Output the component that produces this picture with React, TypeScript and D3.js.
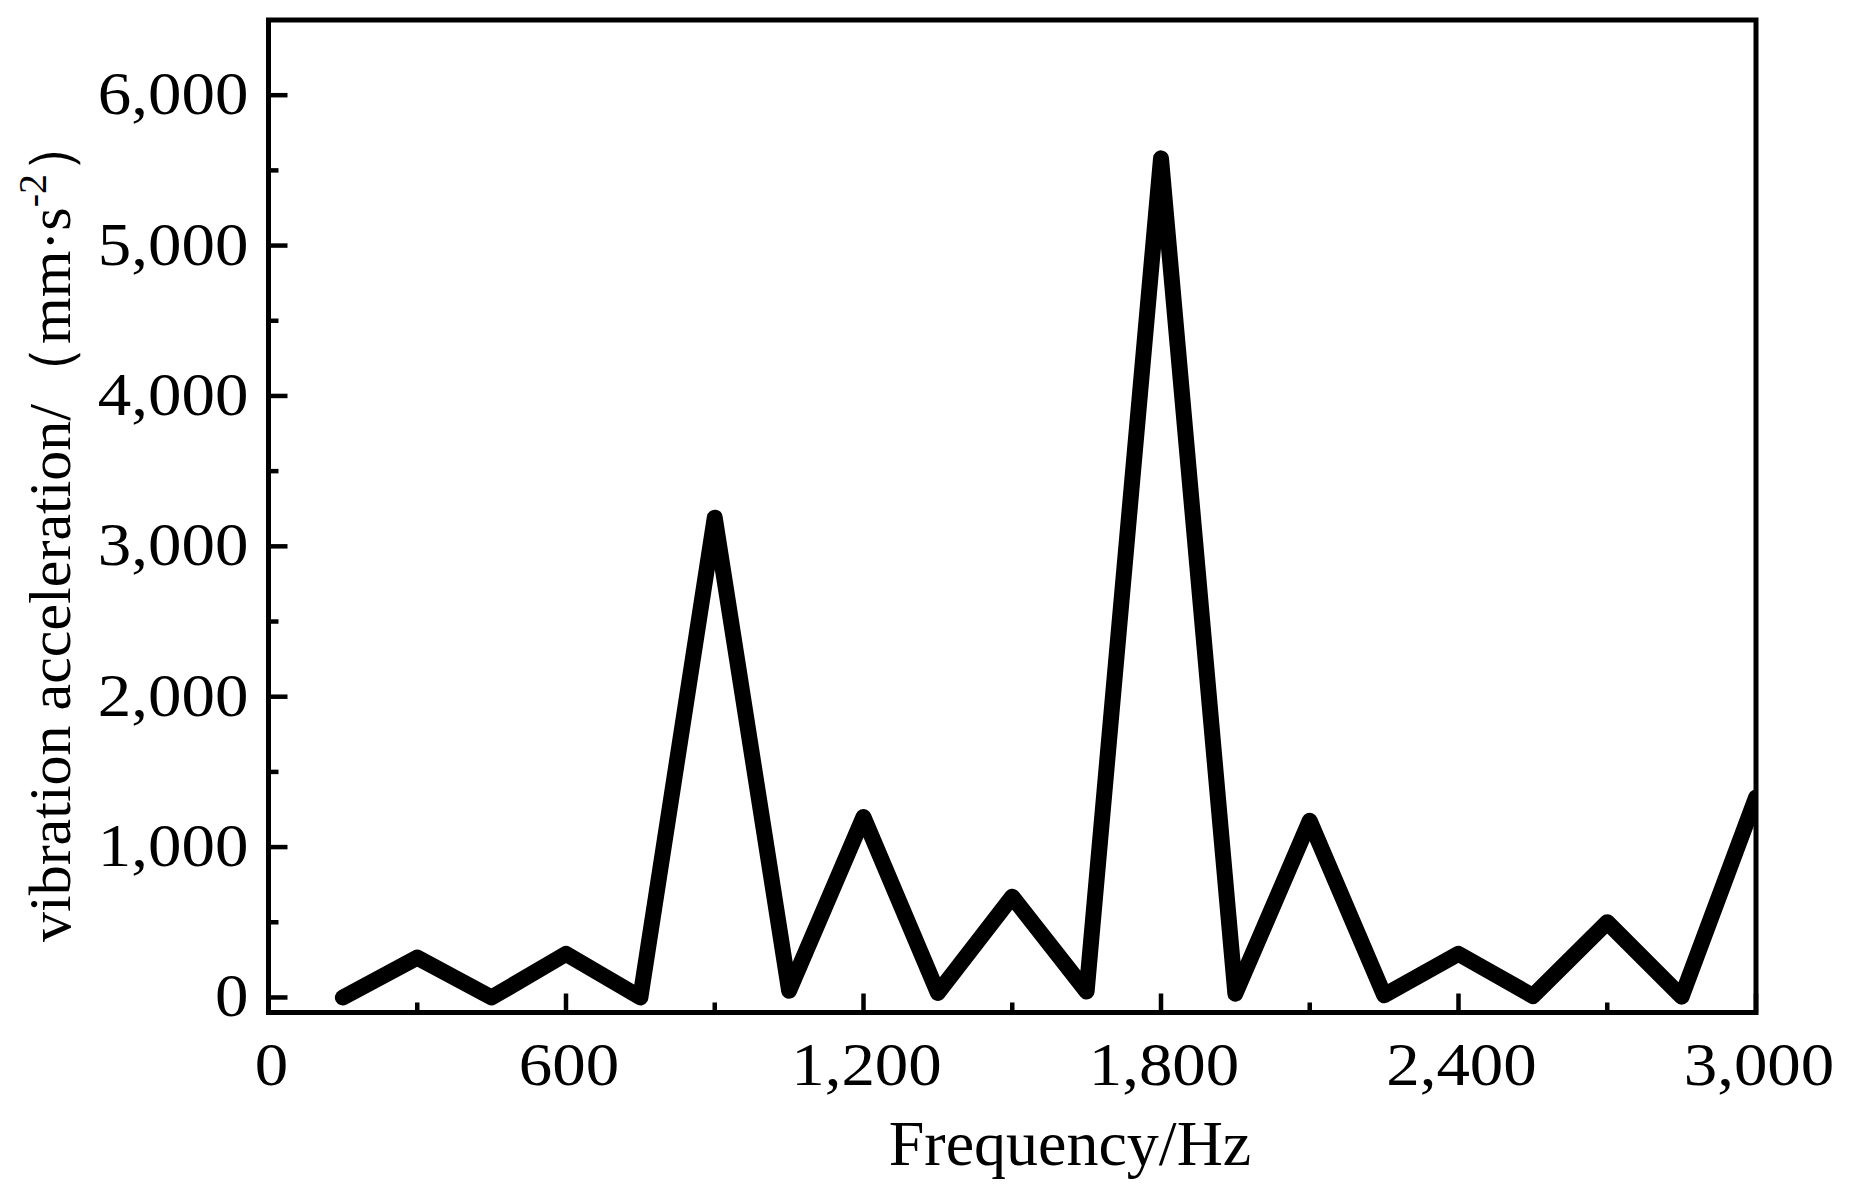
import React from "react";
import * as d3 from "d3";

// frequency bins (Hz) and measured vibration acceleration (mm·s^-2)
const frequencies = [
  150, 300, 450, 600, 750, 900, 1050, 1200, 1350, 1500, 1650, 1800, 1950,
  2100, 2250, 2400, 2550, 2700, 2850, 3000,
];
const acceleration = [
  0, 265, 0, 290, 0, 3190, 45, 1200, 30, 670, 40, 5580, 25, 1175, 15, 290,
  10, 500, 5, 1330,
];

const xMajorTicks = [0, 600, 1200, 1800, 2400, 3000];
const xMinorTicks = [300, 900, 1500, 2100, 2700];
const yMajorTicks = [0, 1000, 2000, 3000, 4000, 5000, 6000];
const yMinorTicks = [500, 1500, 2500, 3500, 4500, 5500];

const W = 1852;
const H = 1190;
const left = 268.5;
const right = 1756;
const top = 20;
const bottom = 1012.5;
const font = "'Liberation Serif', 'Times New Roman', serif";
const stretch = 1.08; // tick labels in the original are a little wide

const App = () => {
  const x = d3.scaleLinear().domain([0, 3000]).range([left, right]);
  const y = d3.scaleLinear().domain([-100, 6500]).range([bottom, top]);
  const fmt = d3.format(",");

  const line = d3
    .line<number>()
    .x((_, i) => x(frequencies[i]))
    .y((d) => y(d));

  const major = 19;
  const minor = 10;

  return (
    <svg
      width={W}
      height={H}
      style={{ position: "absolute", left: 0, top: 0, background: "#fff" }}
    >
      <defs>
        <clipPath id="plot">
          <rect x={left} y={top} width={right - left} height={bottom - top} />
        </clipPath>
      </defs>

      {/* data line */}
      <path
        d={line(acceleration) || ""}
        fill="none"
        stroke="#000"
        strokeWidth={16}
        strokeLinejoin="round"
        strokeLinecap="round"
        clipPath="url(#plot)"
      />

      {/* ticks, pointing inward */}
      <g stroke="#000" strokeWidth={4.5}>
        {yMajorTicks.map((t) => (
          <line key={"ym" + t} x1={left} x2={left + major} y1={y(t)} y2={y(t)} />
        ))}
        {yMinorTicks.map((t) => (
          <line key={"yn" + t} x1={left} x2={left + minor} y1={y(t)} y2={y(t)} />
        ))}
        {xMajorTicks.map((t) => (
          <line key={"xm" + t} x1={x(t)} x2={x(t)} y1={bottom} y2={bottom - major} />
        ))}
        {xMinorTicks.map((t) => (
          <line key={"xn" + t} x1={x(t)} x2={x(t)} y1={bottom} y2={bottom - minor} />
        ))}
      </g>

      {/* frame */}
      <rect
        x={left}
        y={top}
        width={right - left}
        height={bottom - top}
        fill="none"
        stroke="#000"
        strokeWidth={5}
      />

      {/* tick labels */}
      <g fontFamily={font} fontSize={62} fill="#000">
        {yMajorTicks.map((t) => (
          <g key={"yl" + t} transform={`translate(${left - 20},${y(t) + 19}) scale(${stretch},1)`}>
            <text textAnchor="end">{fmt(t)}</text>
          </g>
        ))}
        {xMajorTicks.map((t) => (
          <g key={"xl" + t} transform={`translate(${x(t) + 3},${bottom + 72}) scale(${stretch},1)`}>
            <text textAnchor="middle">{fmt(t)}</text>
          </g>
        ))}
      </g>

      {/* axis titles */}
      <text
        x={1070}
        y={1165}
        textAnchor="middle"
        fontFamily={font}
        fontSize={64}
        fill="#000"
      >
        Frequency/Hz
      </text>
      <text
        transform={`translate(70,528) rotate(-90)`}
        textAnchor="middle"
        fontFamily={font}
        fontSize={60}
        fill="#000"
      >
        vibration acceleration/（mm·s
        <tspan dy={-24} fontSize={40}>
          -2
        </tspan>
        <tspan dy={24}>）</tspan>
      </text>
    </svg>
  );
};

export default App;
